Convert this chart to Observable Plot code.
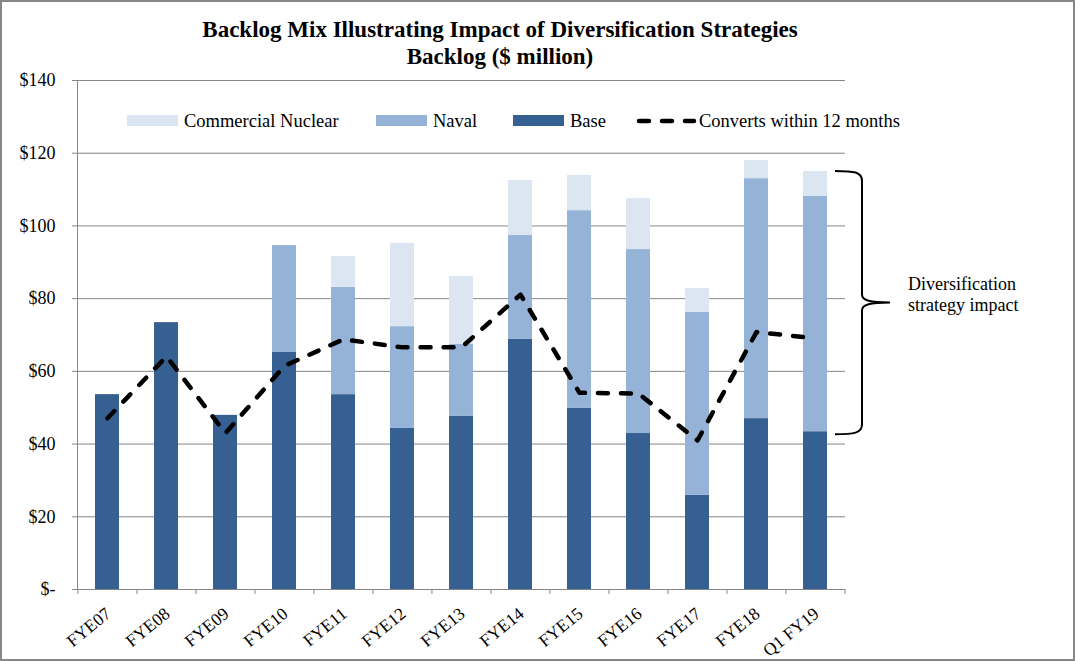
<!DOCTYPE html>
<html><head><meta charset="utf-8">
<script src="https://cdn.jsdelivr.net/npm/d3@7"></script>
<script src="https://cdn.jsdelivr.net/npm/@observablehq/plot@0.6"></script>
<style>
body{margin:0;background:#fff;}
#wrap{position:relative;width:1075px;height:661px;overflow:hidden;background:#fff;}
#wrap svg{position:absolute;left:0;top:0;}
#border{position:absolute;left:0;top:0;width:1075px;height:661px;box-sizing:border-box;border:2px solid #868686;pointer-events:none;}
</style></head><body>
<div id="wrap"><div id="border"></div></div>
<script>
const categories = ["FYE07","FYE08","FYE09","FYE10","FYE11","FYE12","FYE13","FYE14","FYE15","FYE16","FYE17","FYE18","Q1 FY19"];
const baseValues    = [53.6, 73.4, 47.9, 65.2, 53.6, 44.3, 47.6, 68.8, 49.8, 42.9, 25.9, 47.0, 43.4];
const navalValues   = [0, 0, 0, 29.4, 29.5, 28.0, 19.8, 28.6, 54.4, 50.6, 50.3, 66.0, 64.7];
const nuclearValues = [0, 0, 0, 0, 8.5, 22.9, 18.7, 15.1, 9.7, 14.0, 6.6, 5.0, 6.9];
const convertsValues = [47.1, 64.1, 43.0, 61.5, 68.8, 66.6, 66.6, 81.1, 54.1, 53.9, 41.0, 70.8, 69.1];
const seriesNames = ["Commercial Nuclear", "Naval", "Base"];
const seriesColors = ["#DCE6F2", "#95B3D7", "#376092"];
const lineName = "Converts within 12 months";
const yTicks = [0, 20, 40, 60, 80, 100, 120, 140];
const titleLines = ["Backlog Mix Illustrating Impact of Diversification Strategies", "Backlog ($ million)"];
const noteLines = ["Diversification", "strategy impact"];

const bars = categories.flatMap((c, i) => [
  {cat: c, series: "Base", value: baseValues[i]},
  {cat: c, series: "Naval", value: navalValues[i]},
  {cat: c, series: "Commercial Nuclear", value: nuclearValues[i]}
]);
const lineData = categories.map((c, i) => ({cat: c, value: convertsValues[i]}));

const W = 1075, H = 661, mL = 77, mR = 230, mT = 80, mB = 72;
const step = (W - mL - mR) / categories.length;
const FONT = '"Liberation Serif", "Times New Roman", serif';
const GRID = "#868686";

const chart = Plot.plot({
  width: W, height: H,
  marginLeft: mL, marginRight: mR, marginTop: mT, marginBottom: mB,
  style: {fontFamily: FONT, fontSize: "18px", color: "#000", background: "transparent", overflow: "visible"},
  x: {domain: categories, paddingInner: 0.6, paddingOuter: 0.3, label: null},
  y: {domain: [0, 140], label: null},
  color: {domain: seriesNames, range: seriesColors},
  marks: [
    Plot.gridY(yTicks, {stroke: GRID, strokeOpacity: 1}),
    Plot.barY(bars, {x: "cat", y: "value", fill: "series", order: ["Base", "Naval", "Commercial Nuclear"]}),
    Plot.line(lineData, {x: "cat", y: "value", stroke: "#000", strokeWidth: 4.5, strokeDasharray: "10,13", strokeLinecap: "round", strokeLinejoin: "round"}),
    Plot.ruleY([0], {stroke: GRID}),
    Plot.frame({anchor: "left", stroke: GRID}),
    Plot.axisY({ticks: yTicks, tickSize: 5, tickPadding: 17, stroke: GRID, tickFormat: d => d === 0 ? "$-" : "$" + d, fontSize: 18, label: null}),
    Plot.ruleX(categories, {x: d => d, y1: 0, y2: 0, dx: -step / 2, insetTop: 0, insetBottom: -5, stroke: GRID}),
    Plot.ruleX(categories.slice(-1), {x: d => d, y1: 0, y2: 0, dx: step / 2, insetTop: 0, insetBottom: -5, stroke: GRID}),
    Plot.axisX({tickSize: 0, tickRotate: -39, tickPadding: 22, dx: 1, fontSize: 17.5, label: null})
  ]
});
const wrap = document.getElementById("wrap");
wrap.insertBefore(chart, document.getElementById("border"));

const yScale = chart.scale("y");
const ov = d3.select(wrap).insert("svg", "#border").attr("width", W).attr("height", H)
  .style("font-family", FONT).style("pointer-events", "none");

// title
ov.selectAll("text.title").data(titleLines).join("text").attr("class", "title")
  .attr("x", 500).attr("y", (d, i) => 37 + i * 27).attr("text-anchor", "middle")
  .attr("font-weight", "bold").attr("font-size", 23).text(d => d);

// legend
const legendItems = [
  {name: seriesNames[0], color: seriesColors[0], x: 127},
  {name: seriesNames[1], color: seriesColors[1], x: 376},
  {name: seriesNames[2], color: seriesColors[2], x: 513}
];
const lg = ov.append("g");
legendItems.forEach(it => {
  lg.append("rect").attr("x", it.x).attr("y", 115).attr("width", 51).attr("height", 11).attr("fill", it.color);
  lg.append("text").attr("x", it.x + 57).attr("y", 127).attr("font-size", 18.5).text(it.name);
});
lg.append("line").attr("x1", 639).attr("x2", 694).attr("y1", 121).attr("y2", 121)
  .attr("stroke", "#000").attr("stroke-width", 4.5).attr("stroke-dasharray", "10,13").attr("stroke-linecap", "round");
lg.append("text").attr("x", 699).attr("y", 127).attr("font-size", 18.5).text(lineName);

// bracket spanning the last bar's diversification share
const last = categories.length - 1;
const bTop = yScale.apply(baseValues[last] + navalValues[last] + nuclearValues[last]);
const bBot = yScale.apply(baseValues[last]) + 3;
const bMid = (bTop + bBot) / 2;
const xl = 835, xv = 862, xp = 890;
ov.append("path").attr("fill", "none").attr("stroke", "#000").attr("stroke-width", 2)
  .attr("d", `M${xl},${bTop} C${xv - 8},${bTop} ${xv},${bTop + 1} ${xv},${bTop + 10} L${xv},${bMid - 8} C${xv},${bMid - 2} ${xv + 8},${bMid} ${xp},${bMid} C${xv + 8},${bMid} ${xv},${bMid + 2} ${xv},${bMid + 8} L${xv},${bBot - 10} C${xv},${bBot - 1} ${xv - 8},${bBot} ${xl},${bBot}`);
ov.selectAll("text.note").data(noteLines).join("text").attr("class", "note")
  .attr("x", 908).attr("y", (d, i) => 290 + i * 21).attr("font-size", 18).text(d => d);
</script>
</body></html>
